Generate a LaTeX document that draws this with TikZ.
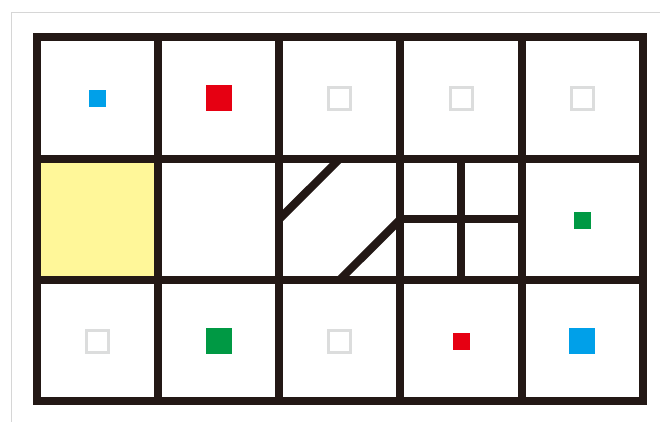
\documentclass[tikz,border=0pt]{standalone}
\definecolor{linec}{HTML}{231815}
\definecolor{framec}{HTML}{D6D6D6}
\definecolor{hollowc}{HTML}{DCDDDD}
\definecolor{redc}{HTML}{E60012}
\definecolor{greenc}{HTML}{009944}
\definecolor{bluec}{HTML}{00A0E9}
\definecolor{yellowc}{HTML}{FFF799}
\tikzset{
  gridline/.style={draw=linec, line width=8pt, line join=miter},
  smallsq/.style={rectangle, inner sep=0pt, minimum size=17pt},
  bigsq/.style={rectangle, inner sep=0pt, minimum size=26pt},
  hollowsq/.style={rectangle, inner sep=0pt, minimum size=22pt, draw=hollowc, line width=3pt},
}
\begin{document}
\begin{tikzpicture}[x=1pt, y=-1pt]
\useasboundingbox[fill=white] (0,0) rectangle (660,422);
% light frame
\draw[framec, line width=1.5pt] (11.7,422) -- (11.7,12.7) -- (660,12.7);
% coordinates of grid
\def\xa{36.5}\def\xb{157.8}\def\xc{279.1}\def\xd{400.4}\def\xe{521.7}\def\xf{643}
\def\ya{37.5}\def\yb{158.7}\def\yc{279.8}\def\yd{401}
% yellow cell
\fill[yellowc] (\xa,\yb) rectangle (\xb,\yc);
% diagonals
\coordinate (dtop) at ({(\xc+\xd)/2},\yb);
\coordinate (dleft) at (\xc,{(\yb+\yc)/2});
\coordinate (dright) at (\xd,{(\yb+\yc)/2});
\coordinate (dbot) at ({(\xc+\xd)/2},\yc);
\draw[gridline] (dtop) -- (dleft);
\draw[gridline] (dright) -- (dbot);
% subdivided cell
\draw[gridline] ({(\xd+\xe)/2},\yb) -- ({(\xd+\xe)/2},\yc);
\draw[gridline] (\xd,{(\yb+\yc)/2}) -- (\xe,{(\yb+\yc)/2});
% grid
\foreach \x in {\xb,\xc,\xd,\xe} \draw[gridline] (\x,\ya) -- (\x,\yd);
\foreach \y in {\yb,\yc} \draw[gridline] (\xa,\y) -- (\xf,\y);
\draw[gridline] (\xa,\ya) rectangle (\xf,\yd);
% squares
\node[smallsq, fill=bluec] (s11) at (97.3,98.2) {};
\node[bigsq, fill=redc] (s12) at (218.5,98.2) {};
\node[hollowsq] (s13) at (339.8,98.2) {};
\node[hollowsq] (s14) at (461.1,98.2) {};
\node[hollowsq] (s15) at (582.4,98.2) {};
\node[smallsq, fill=greenc] (s25) at (582.4,220.2) {};
\node[hollowsq] (s31) at (97.3,341) {};
\node[bigsq, fill=greenc] (s32) at (218.5,341) {};
\node[hollowsq] (s33) at (339.8,341) {};
\node[smallsq, fill=redc] (s34) at (461.1,341) {};
\node[bigsq, fill=bluec] (s35) at (582.4,341) {};
\end{tikzpicture}
\end{document}
